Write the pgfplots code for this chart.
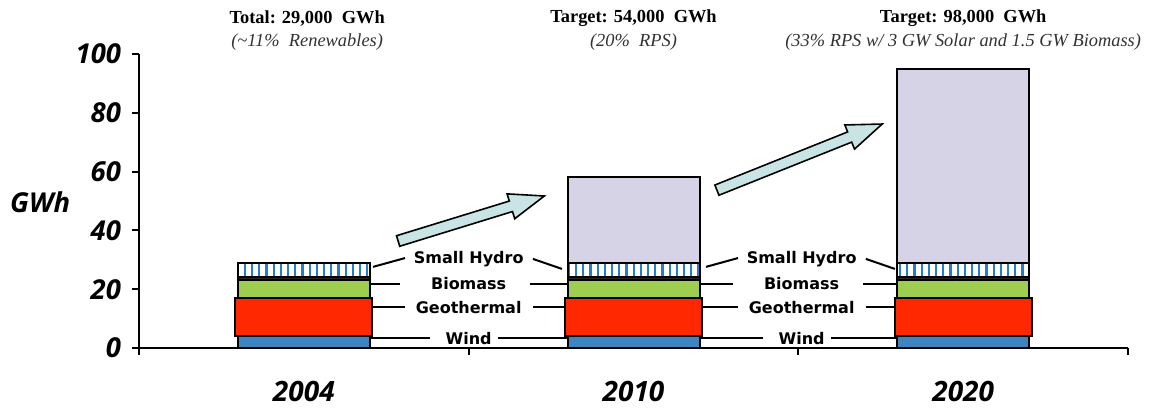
\documentclass[border=0pt]{standalone}
\usepackage{pgfplots}
\pgfplotsset{compat=1.18}
\usepackage{pgfplotstable}
\usepackage{fontspec}
\usetikzlibrary{patterns.meta}
\newfontfamily\dv{DejaVu Sans}
\newfontfamily\os{Open Sans}
\newfontfamily\lser{Liberation Serif}
\definecolor{windblue}{RGB}{62,132,193}
\definecolor{geored}{RGB}{255,40,0}
\definecolor{biogreen}{RGB}{157,206,82}
\definecolor{gaplav}{RGB}{214,211,230}
\definecolor{arrowcol}{RGB}{200,228,228}
\definecolor{hydroblue}{RGB}{40,125,200}
\definecolor{subgray}{RGB}{50,50,50}

\pgfplotstableread{
x wind geo bio band hydro gap
0.5 4 13 6 1.2 4.8 0
1.5 4 13 6 1.2 4.8 29
2.5 4 13 6 1.2 4.8 66
}\data

\begin{document}
\begin{tikzpicture}
\begin{axis}[
  scale only axis, width=494.5pt, height=147pt,
  xmin=0, xmax=3, ymin=0, ymax=100,
  axis lines=left, axis line style={-, line width=1pt, black},
  ybar stacked, bar width=66pt,
  xtick={0,1,2,3}, xticklabels={},
  ytick={0,20,40,60,80,100}, yticklabels={0,20,40,60,80,100},
  yticklabel style={font=\os\bfseries\itshape\fontsize{13.7}{15}\selectfont, xshift=-2pt},
  tick align=outside, major tick length=3.5pt, tick style={line width=1pt, black},
  clip=false,
  every axis plot/.append style={draw=black, line width=1pt},
]
\addplot[fill=windblue] table[x=x, y=wind] {\data};
\addplot[fill=geored, bar width=68.5pt] table[x=x, y=geo] {\data};
\addplot[fill=biogreen] table[x=x, y=bio] {\data};
\addplot[fill=black!85] table[x=x, y=band] {\data};
\addplot[fill=white, postaction={pattern={Lines[angle=90,distance=3.6pt,line width=1.1pt]}, pattern color=hydroblue}] table[x=x, y=hydro] {\data};
\addplot[fill=gaplav] table[x=x, y=gap] {\data};

% GAP labels
\node[font=\os\bfseries\itshape\fontsize{8.2}{9}\selectfont] at (axis cs:1.5,44.6) {GAP};
\node[font=\os\bfseries\itshape\fontsize{8.2}{9}\selectfont] at (axis cs:2.5,65.6) {GAP};

% titles
\node[font=\lser\bfseries\fontsize{9.2}{10}\selectfont] at (axis cs:0.51,112.2) {Total: 29,000~~GWh};
\node[font=\lser\itshape\fontsize{9.2}{10}\selectfont, text=subgray] at (axis cs:0.51,104.1) {(\textasciitilde11\%~~Renewables)};
\node[font=\lser\bfseries\fontsize{9.2}{10}\selectfont] at (axis cs:1.5,112.2) {Target: 54,000~~GWh};
\node[font=\lser\itshape\fontsize{9.2}{10}\selectfont, text=subgray] at (axis cs:1.5,104.1) {(20\%~~RPS)};
\node[font=\lser\bfseries\fontsize{9.2}{10}\selectfont] at (axis cs:2.5,112.2) {Target: 98,000~~GWh};
\node[font=\lser\itshape\fontsize{9.2}{10}\selectfont, text=subgray] at (axis cs:2.5,104.1) {(33\% RPS w/ 3 GW Solar and 1.5 GW Biomass)};

% year labels
\node[font=\os\bfseries\itshape\fontsize{14}{16}\selectfont] at (axis cs:0.5,-14.8) {2004};
\node[font=\os\bfseries\itshape\fontsize{14}{16}\selectfont] at (axis cs:1.5,-14.8) {2010};
\node[font=\os\bfseries\itshape\fontsize{14}{16}\selectfont] at (axis cs:2.5,-14.8) {2020};

% GWh label
\node[font=\os\bfseries\itshape\fontsize{13.7}{15}\selectfont] at (axis cs:-0.30,49.7) {GWh};

% leader labels and lines, gap 1
\node[font=\dv\bfseries\fontsize{8}{9}\selectfont] at (axis cs:1.0,30.2) {Small Hydro};
\node[font=\dv\bfseries\fontsize{8}{9}\selectfont] at (axis cs:1.0,21.8) {Biomass};
\node[font=\dv\bfseries\fontsize{8}{9}\selectfont] at (axis cs:1.0,13.6) {Geothermal};
\node[font=\dv\bfseries\fontsize{8}{9}\selectfont] at (axis cs:1.0,3.1) {Wind};
\draw[line width=1pt] (axis cs:0.710,27.6) -- (axis cs:0.807,30.6);
\draw[line width=1pt] (axis cs:1.195,30.3) -- (axis cs:1.283,26.9);
\draw[line width=1pt] (axis cs:0.673,21.8) -- (axis cs:0.792,21.8);
\draw[line width=1pt] (axis cs:1.186,21.8) -- (axis cs:1.301,21.8);
\draw[line width=1pt] (axis cs:0.679,13.9) -- (axis cs:0.807,13.9);
\draw[line width=1pt] (axis cs:1.195,13.9) -- (axis cs:1.313,13.9);
\draw[line width=1pt] (axis cs:0.679,3.4) -- (axis cs:0.883,3.4);
\draw[line width=1pt] (axis cs:1.089,3.4) -- (axis cs:1.301,3.4);
% gap 2
\node[font=\dv\bfseries\fontsize{8}{9}\selectfont] at (axis cs:2.01,30.2) {Small Hydro};
\node[font=\dv\bfseries\fontsize{8}{9}\selectfont] at (axis cs:2.01,21.8) {Biomass};
\node[font=\dv\bfseries\fontsize{8}{9}\selectfont] at (axis cs:2.01,13.6) {Geothermal};
\node[font=\dv\bfseries\fontsize{8}{9}\selectfont] at (axis cs:2.01,3.1) {Wind};
\draw[line width=1pt] (axis cs:1.720,27.6) -- (axis cs:1.817,30.6);
\draw[line width=1pt] (axis cs:2.205,30.3) -- (axis cs:2.293,26.9);
\draw[line width=1pt] (axis cs:1.683,21.8) -- (axis cs:1.802,21.8);
\draw[line width=1pt] (axis cs:2.196,21.8) -- (axis cs:2.311,21.8);
\draw[line width=1pt] (axis cs:1.689,13.9) -- (axis cs:1.817,13.9);
\draw[line width=1pt] (axis cs:2.205,13.9) -- (axis cs:2.323,13.9);
\draw[line width=1pt] (axis cs:1.689,3.4) -- (axis cs:1.893,3.4);
\draw[line width=1pt] (axis cs:2.099,3.4) -- (axis cs:2.311,3.4);

\coordinate (A1) at (axis cs:0.786,36.4);
\coordinate (A2) at (axis cs:1.753,53.7);
\end{axis}
\draw[fill=arrowcol, line width=0.8pt, shift={(A1)}, rotate=17.1]
  (0,-2.75pt) -- (59pt,-2.75pt) -- (59pt,-6.5pt) -- (76.5pt,0) -- (59pt,6.5pt) -- (59pt,2.75pt) -- (0,2.75pt) -- cycle;
\draw[fill=arrowcol, line width=0.8pt, shift={(A2)}, rotate=21.8]
  (0,-2.75pt) -- (71.5pt,-2.75pt) -- (71.5pt,-6.5pt) -- (89pt,0) -- (71.5pt,6.5pt) -- (71.5pt,2.75pt) -- (0,2.75pt) -- cycle;
\pgfresetboundingbox
\useasboundingbox (-69.5pt,-30.5pt) rectangle (507.5pt,174pt);
\end{tikzpicture}
\end{document}
